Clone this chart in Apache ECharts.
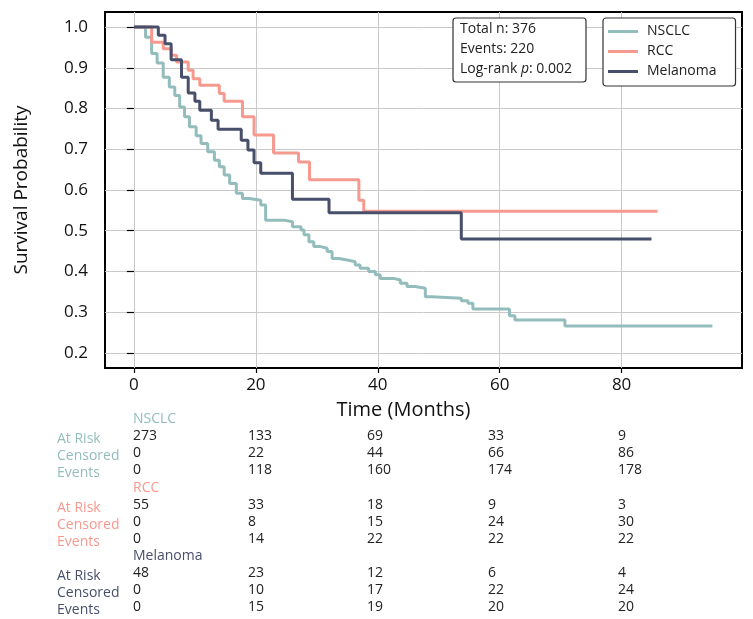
<!DOCTYPE html>
<html>
<head>
<meta charset="utf-8">
<script src="https://cdn.jsdelivr.net/npm/echarts@6/dist/echarts.min.js"></script>
<style>
  html, body { margin: 0; padding: 0; background: #fff; }
  #km { width: 753px; height: 619px; }
</style>
</head>
<body>
<div id="km"></div>
<script>
// KM curves: [months, survival] at each drop
var nsclc = [[0, 1], [1.9, 0.975], [2.9, 0.935], [3.8, 0.912], [4.8, 0.877], [5.8, 0.853], [6.7, 0.832],
  [7.5, 0.804], [8.3, 0.78], [9.1, 0.755], [10.2, 0.733], [11.0, 0.714], [12.1, 0.694], [13.2, 0.673],
  [14.0, 0.657], [14.8, 0.637], [15.7, 0.616], [16.8, 0.592], [17.8, 0.579], [18.9, 0.575], [20.8, 0.563],
  [21.6, 0.526], [24.6, 0.522], [26.0, 0.510], [27.4, 0.502], [27.9, 0.490], [28.7, 0.473], [29.5, 0.461],
  [30.6, 0.457], [31.7, 0.449], [32.5, 0.432], [33.6, 0.428], [35.0, 0.424], [36.3, 0.416], [37.1, 0.408],
  [38.5, 0.400], [39.6, 0.392], [40.4, 0.383], [42.6, 0.379], [43.7, 0.371], [44.8, 0.363], [46.1, 0.359],
  [47.8, 0.338], [48.9, 0.334], [53.7, 0.328], [54.8, 0.322], [55.6, 0.308], [61.6, 0.291], [62.5, 0.281],
  [70.7, 0.266], [94.9, 0.266]];
var rcc = [[0, 1], [2.9, 0.963], [4.8, 0.947], [6.1, 0.931], [7.0, 0.914], [8.9, 0.894], [9.7, 0.873],
  [10.8, 0.857], [14.0, 0.837], [14.8, 0.818], [17.8, 0.78], [19.7, 0.735], [22.9, 0.691], [27.0, 0.669],
  [28.8, 0.625], [36.9, 0.575], [37.7, 0.548], [85.9, 0.548]];
var melanoma = [[0, 1], [4.0, 0.98], [5.1, 0.959], [6.1, 0.92], [7.8, 0.877], [8.9, 0.838], [10.0, 0.818],
  [10.8, 0.796], [12.7, 0.771], [13.8, 0.749], [17.6, 0.722], [18.7, 0.698], [19.7, 0.667], [20.8, 0.641],
  [26.0, 0.577], [32.0, 0.544], [53.7, 0.480], [84.9, 0.480]];

var xTicks = [0, 20, 40, 60, 80];
var yTicks = [0.2, 0.3, 0.4, 0.5, 0.6, 0.7, 0.8, 0.9, 1.0];

// number-at-risk table
var groups = ['NSCLC', 'RCC', 'Melanoma'];
var rowNames = ['At Risk', 'Censored', 'Events'];
var nsclcAtRisk = [273, 133, 69, 33, 9];
var nsclcCensored = [0, 22, 44, 66, 86];
var nsclcEvents = [0, 118, 160, 174, 178];
var rccAtRisk = [55, 33, 18, 9, 3];
var rccCensored = [0, 8, 15, 24, 30];
var rccEvents = [0, 14, 22, 22, 22];
var melAtRisk = [48, 23, 12, 6, 4];
var melCensored = [0, 10, 17, 22, 24];
var melEvents = [0, 15, 19, 20, 20];

var colors = ['#93bdbc', '#f6998e', '#474f6a'];
var font = 'Open Sans';

var myChart = echarts.init(document.getElementById('km'));

// table text
var tableRows = [
  [nsclcAtRisk, nsclcCensored, nsclcEvents],
  [rccAtRisk, rccCensored, rccEvents],
  [melAtRisk, melCensored, melEvents]
];
var colX = [133, 248, 367, 488, 618];
var headerY = [421, 490, 558];
var graphics = [];
for (var g = 0; g < 3; g++) {
  graphics.push({
    type: 'text', left: 133, top: headerY[g] - 9,
    style: { text: groups[g], fill: colors[g], font: '14px "' + font + '"' }
  });
  for (var r = 0; r < 3; r++) {
    var y = headerY[g] + 19 + r * 17;
    graphics.push({
      type: 'text', left: 57, top: y - 8,
      style: { text: rowNames[r], fill: colors[g], font: '14px "' + font + '"' }
    });
    for (var c = 0; c < 5; c++) {
      graphics.push({
        type: 'text', left: colX[c], top: y - 11,
        style: { text: String(tableRows[g][r][c]), fill: '#222', font: '14px "' + font + '"' }
      });
    }
  }
}

// stats box
graphics.push({
  type: 'rect', shape: { x: 453, y: 18, width: 133, height: 64, r: 3 },
  style: { fill: '#fff', stroke: '#333', lineWidth: 1.2 }, z: 10
});
graphics.push({
  type: 'text', left: 460, top: 22, z: 11,
  style: {
    text: '{n|Total n: 376}\n{n|Events: 220}\n{n|Log-rank }{i|p}{n|: 0.002}',
    rich: {
      n: { fontFamily: font, fontSize: 14, lineHeight: 20, fill: '#222' },
      i: { fontFamily: font, fontSize: 14, lineHeight: 20, fontStyle: 'italic', fill: '#222' }
    }
  }
});

var option = {
  animation: false,
  color: colors,
  textStyle: { fontFamily: font },
  grid: {
    left: 105, top: 12, width: 637, height: 356,
    show: true, borderColor: '#000', borderWidth: 2, backgroundColor: 'transparent'
  },
  legend: {
    orient: 'vertical',
    left: 603, top: 18,
    padding: [6, 19, 7, 5],
    itemGap: 5,
    itemWidth: 30, itemHeight: 3,
    icon: 'rect',
    backgroundColor: '#fff',
    borderColor: '#333', borderWidth: 1.2, borderRadius: 3,
    textStyle: { fontFamily: font, fontSize: 14, color: '#222', lineHeight: 15, padding: [0, 0, 0, 4] },
    data: ['NSCLC', 'RCC', 'Melanoma']
  },
  xAxis: {
    type: 'value',
    min: -4.75, max: 99.75,
    name: 'Time (Months)',
    nameLocation: 'middle',
    nameGap: 32,
    nameTextStyle: { fontFamily: font, fontSize: 20, color: '#111', padding: [0, 40, 0, 0] },
    axisLine: { show: false },
    axisTick: { show: true, customValues: xTicks, length: 5, lineStyle: { color: '#000', width: 1.2 } },
    axisLabel: { customValues: xTicks, margin: 9, fontSize: 17, color: '#111', fontFamily: font },
    splitLine: { show: true, lineStyle: { color: '#c9c9c9', width: 1 } }
  },
  yAxis: {
    type: 'value',
    min: 0.163, max: 1.037,
    name: 'Survival Probability',
    nameLocation: 'middle',
    nameGap: 74,
    nameTextStyle: { fontFamily: font, fontSize: 19, color: '#111' },
    axisLine: { show: false },
    axisTick: { show: true, customValues: yTicks, length: 7, lineStyle: { color: '#000', width: 1.2 } },
    axisLabel: {
      customValues: yTicks, margin: 17, fontSize: 17, color: '#111', fontFamily: font,
      formatter: function (v) { return v.toFixed(1); }
    },
    splitLine: { show: true, lineStyle: { color: '#c9c9c9', width: 1 } }
  },
  series: [
    { name: 'NSCLC', type: 'line', step: 'end', symbol: 'none', data: nsclc, lineStyle: { width: 3 } },
    { name: 'RCC', type: 'line', step: 'end', symbol: 'none', data: rcc, lineStyle: { width: 3 } },
    { name: 'Melanoma', type: 'line', step: 'end', symbol: 'none', data: melanoma, lineStyle: { width: 3 } }
  ],
  graphic: graphics
};

option && myChart.setOption(option);
</script>
</body>
</html>
